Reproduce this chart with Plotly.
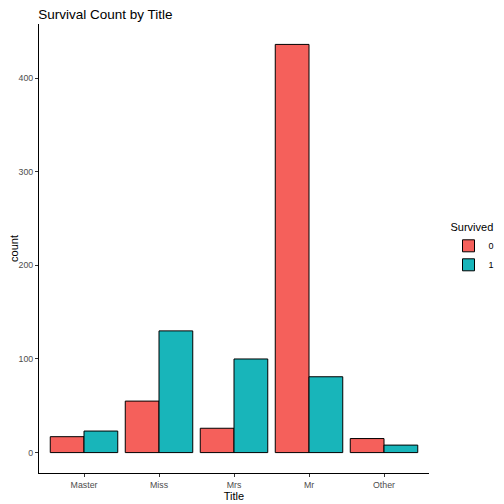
import plotly.graph_objects as go

titles = ["Master", "Miss", "Mrs", "Mr", "Other"]
died = [17, 55, 26, 436, 15]
survived = [23, 130, 100, 81, 8]
y_ticks = [0, 100, 200, 300, 400]

fig = go.Figure()
fig.add_bar(x=titles, y=died, name="0",
            marker=dict(color="rgba(245,96,91,1)", line=dict(color="black", width=1)))
fig.add_bar(x=titles, y=survived, name="1",
            marker=dict(color="rgba(24,181,186,1)", line=dict(color="black", width=1)))

# the page keeps an 8px body margin, so margins are shifted by 8px to compensate
fig.update_layout(
    width=504, height=504,
    barmode="group", bargap=0.1, bargroupgap=0,
    plot_bgcolor="white", paper_bgcolor="white",
    margin=dict(l=31, r=80, t=16, b=39),
    font=dict(family="Liberation Sans, Arial", color="black"),
    title=dict(text="Survival Count by Title", xref="container", x=0.06, xanchor="left",
               yref="container", y=1, yanchor="top", pad=dict(t=2, b=0, l=0, r=0),
               font=dict(size=13.5, color="black")),
    legend=dict(title=dict(text="Survived", font=dict(size=11)),
                x=1.05, xanchor="left", y=0.5, yanchor="middle",
                font=dict(size=9), tracegroupgap=0, itemwidth=30),
    showlegend=True,
)
fig.update_xaxes(
    range=[-0.6, 4.6], showline=True, linecolor="black", linewidth=1,
    ticks="outside", ticklen=3, tickcolor="#333333",
    tickfont=dict(size=8.8, color="#4D4D4D"),
    title=dict(text="Title", font=dict(size=11), standoff=3),
    showgrid=False, zeroline=False, automargin=False,
)
fig.update_yaxes(
    range=[-21.8, 457.8], tickvals=y_ticks, showline=True, linecolor="black",
    linewidth=1, ticks="outside", ticklen=3, tickcolor="#333333",
    tickfont=dict(size=8.8, color="#4D4D4D"),
    title=dict(text="count", font=dict(size=11), standoff=3),
    showgrid=False, zeroline=False, automargin=False,
)

fig.write_html("out.html", config={"displayModeBar": False})
